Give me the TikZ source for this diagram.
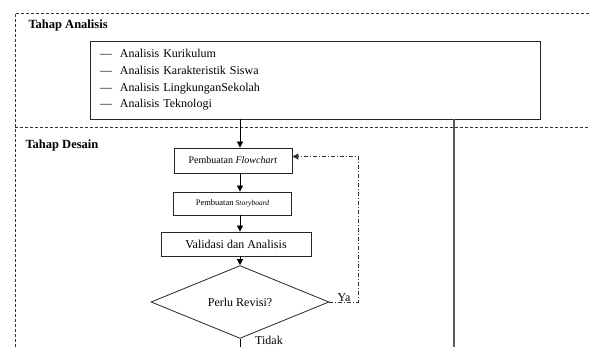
\documentclass[tikz,border=0pt]{standalone}
\usepackage{fontspec}
\setmainfont{Liberation Serif}
\usetikzlibrary{arrows.meta, positioning, shapes}

\begin{document}
\begin{tikzpicture}[x=1pt, y=-1pt,
            box/.style={rectangle, draw=black!85, line width=0.8pt, inner sep=0pt, align=center, font=\fontsize{12}{14}\selectfont},
            keputusan/.style={diamond, draw=black!85, line width=0.8pt, inner sep=0pt, minimum width=178pt, minimum height=66pt, font=\fontsize{12}{14}\selectfont},
            panah/.style={-{Triangle[length=6pt,width=6pt]}, line width=0.8pt},
            batas/.style={dash pattern=on 3pt off 2pt, line width=0.7pt, black!80},
            revisi/.style={dash pattern=on 4pt off 2pt on 1pt off 2pt, line width=0.7pt, black!80},
            judul/.style={anchor=west, font=\bfseries\fontsize{12.5}{14}\selectfont},
            teks/.style={font=\fontsize{12}{14}\selectfont},
        ]
            \useasboundingbox (0,0) rectangle (589,347);
            \draw[batas] (589,13) -- (15,13) -- (15,347);
            \draw[batas] (15,127) -- (589,127);
            \node[judul] (judulanalisis) at (25,25) {Tahap Analisis};
            \node[judul] (juduldesain) at (22,145) {Tahap Desain};
            \node[box, minimum width=450pt, minimum height=78pt, text width=430pt, align=left, font=\fontsize{12}{16.6}\selectfont] (analisis) at (315,80) {\makebox[20pt][l]{---}Analisis Kurikulum\\\makebox[20pt][l]{---}Analisis Karakteristik Siswa\\\makebox[20pt][l]{---}Analisis LingkunganSekolah\\\makebox[20pt][l]{---}Analisis Teknologi};
            \coordinate (kolom) at (240,0);
            \coordinate (ujung) at (454,347);
            \coordinate (akhir) at (240,347);
            \node[box, minimum width=118pt, minimum height=25pt, font=\fontsize{10}{12}\selectfont] (flow) at (233,160.5) {Pembuatan \textit{Flowchart}};
            \node[box, minimum width=118pt, minimum height=23pt, font=\fontsize{8.5}{10}\selectfont] (story) at (232.5,203.5) {Pembuatan {\fontsize{7.5}{9}\selectfont\textit{Storyboard}}};
            \node[box, minimum width=150pt, minimum height=24pt] (validasi) at (236,244) {Validasi dan Analisis};
            \node[keputusan] (revisi) at (240,302) {Perlu Revisi?};
            \node[teks, anchor=south, inner sep=1pt] (ya) at (344,303) {Ya};
            \node[teks, anchor=west, inner sep=1pt] (tidak) at (254,340.5) {Tidak};
            \draw[panah] (analisis.south -| kolom) -- (flow.north -| kolom);
            \draw[panah] (flow.south -| kolom) -- (story.north -| kolom);
            \draw[panah] (story.south -| kolom) -- (validasi.north -| kolom);
            \draw[panah] (validasi.south -| kolom) -- (revisi.north);
            \draw[revisi, -{Triangle[length=6pt,width=6pt]}] (revisi.east) -- ++(29,0) |- ([yshift=4pt]flow.east);
            \draw[line width=0.8pt] (revisi.south) -- (akhir);
            \draw[line width=1.2pt, black!65] (analisis.south -| ujung) -- (ujung);
        \end{tikzpicture}
\end{document}
